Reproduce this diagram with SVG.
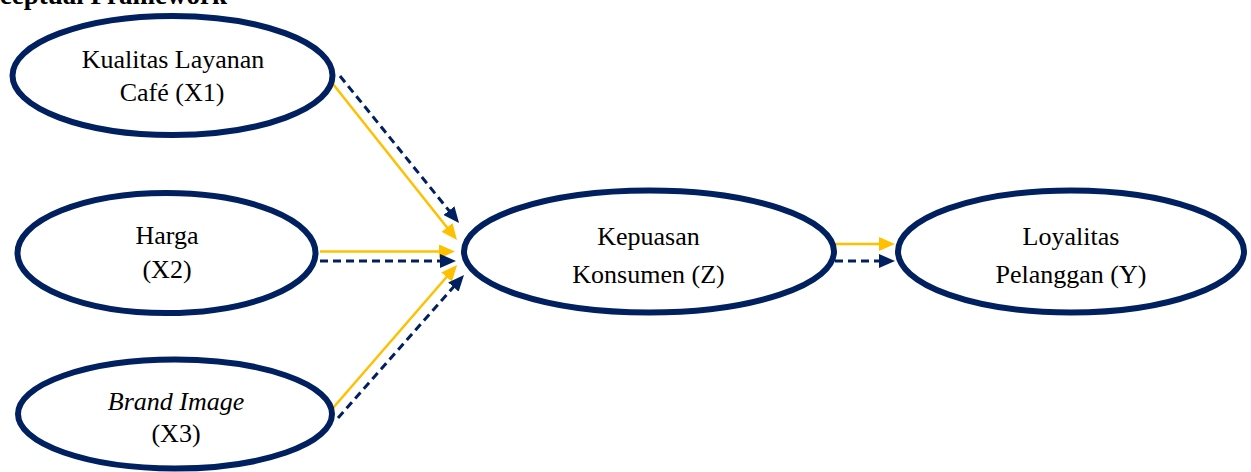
<svg xmlns="http://www.w3.org/2000/svg" width="1251" height="472" viewBox="0 0 1251 472">
  <style>
    .node { fill: #FFFFFF; stroke: #002060; stroke-width: 6; }
    text { font-family: 'Liberation Serif', 'Times New Roman', 'DejaVu Serif', serif; fill: #000000; }
    .lbl { font-size: 26px; text-anchor: middle; }
    .it { font-style: italic; }
    .title { font-size: 27px; font-weight: bold; text-anchor: end; }
    .gold { stroke: #FFC000; stroke-width: 2.5; fill: none; }
    .navy { stroke: #002060; stroke-width: 3; fill: none; stroke-dasharray: 8 5; }
  </style>
  <defs>
    <marker id="ahGold" markerUnits="userSpaceOnUse" markerWidth="16" markerHeight="14" refX="8" refY="7" orient="auto">
      <path d="M0,0 L16,7 L0,14 z" fill="#FFC000"/>
    </marker>
    <marker id="ahNavy" markerUnits="userSpaceOnUse" markerWidth="16" markerHeight="14" refX="8" refY="7" orient="auto">
      <path d="M0,0 L16,7 L0,14 z" fill="#002060"/>
    </marker>
  </defs>
  <rect width="1251" height="472" fill="#FFFFFF"/>
  <text class="title" x="227" y="4" font-family="Liberation Serif, serif">Conceptual Framework</text>

  <g id="connectors">
    <line class="gold" x1="333" y1="84" x2="452" y2="233.7" marker-end="url(#ahGold)"/>
    <line class="navy" x1="340" y1="76" x2="454" y2="216.8" marker-end="url(#ahNavy)"/>
    <line class="gold" x1="320" y1="251.5" x2="447" y2="251.5" marker-end="url(#ahGold)"/>
    <line class="navy" x1="320" y1="261" x2="448" y2="261" marker-end="url(#ahNavy)"/>
    <line class="gold" x1="333" y1="408" x2="451.8" y2="271" marker-end="url(#ahGold)"/>
    <line class="navy" x1="338" y1="418" x2="458.7" y2="281" marker-end="url(#ahNavy)"/>
    <line class="gold" x1="835" y1="244" x2="887" y2="244" marker-end="url(#ahGold)"/>
    <line class="navy" x1="835" y1="261" x2="887" y2="261" marker-end="url(#ahNavy)"/>
  </g>

  <g id="X1">
    <ellipse class="node" cx="172.5" cy="75.5" rx="160" ry="59.5"/>
    <text class="lbl" x="173" y="68">Kualitas Layanan</text>
    <text class="lbl" x="172" y="101">Café (X1)</text>
  </g>
  <g id="X2">
    <ellipse class="node" cx="166.5" cy="253" rx="149" ry="60"/>
    <text class="lbl" x="167" y="244">Harga</text>
    <text class="lbl" x="167" y="278">(X2)</text>
  </g>
  <g id="X3">
    <ellipse class="node" cx="175" cy="414" rx="157" ry="54.5"/>
    <text class="lbl it" x="176" y="410">Brand Image</text>
    <text class="lbl" x="176" y="442">(X3)</text>
  </g>
  <g id="Z">
    <ellipse class="node" cx="649" cy="251.5" rx="185" ry="61"/>
    <text class="lbl" x="648.5" y="245">Kepuasan</text>
    <text class="lbl" x="648.5" y="283">Konsumen (Z)</text>
  </g>
  <g id="Y">
    <ellipse class="node" cx="1071" cy="251.5" rx="173" ry="61"/>
    <text class="lbl" x="1071" y="245">Loyalitas</text>
    <text class="lbl" x="1071" y="283">Pelanggan (Y)</text>
  </g>
</svg>
